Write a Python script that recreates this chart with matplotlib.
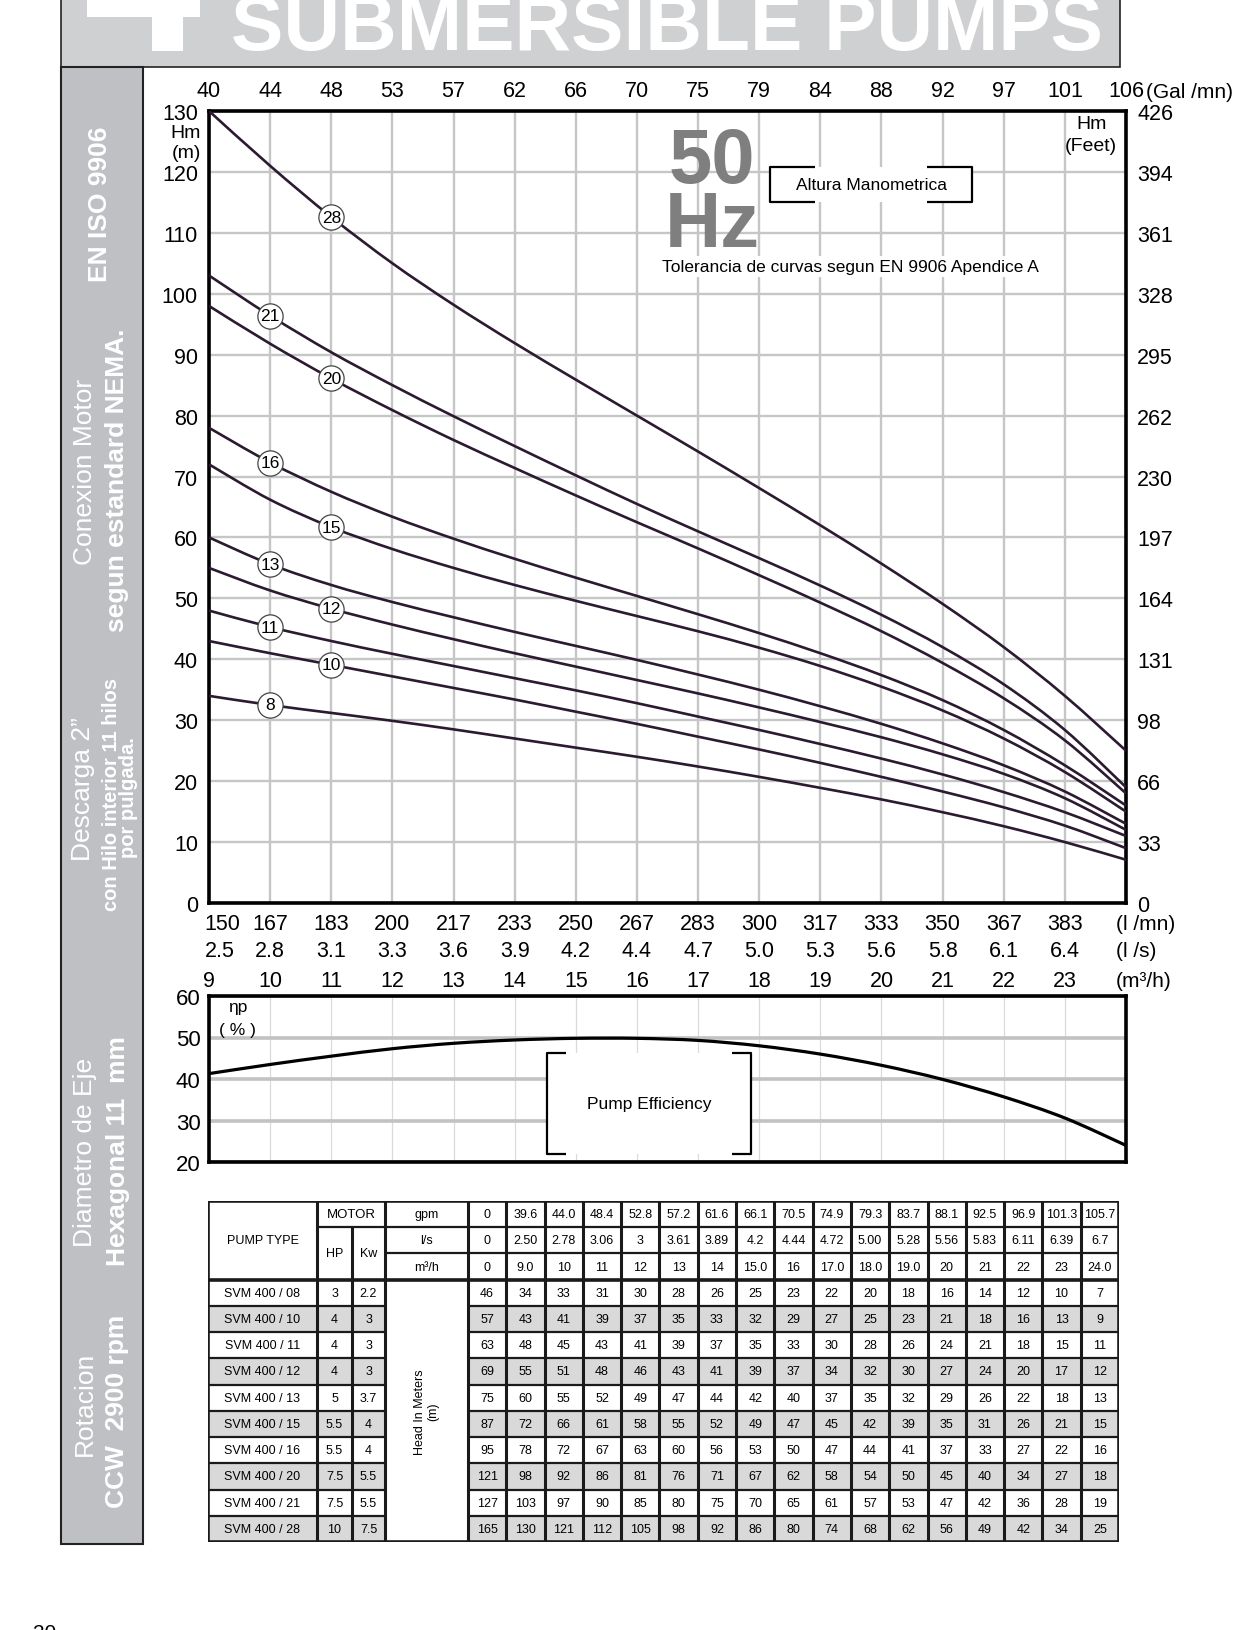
import matplotlib
matplotlib.use("Agg")
import matplotlib.pyplot as plt
import matplotlib.transforms as mtransforms
from matplotlib.patches import Rectangle, PathPatch
from matplotlib.path import Path

plt.rcParams['font.family'] = ['Liberation Sans', 'DejaVu Sans']

# 表格数据
pump_names = ["SVM 400 / 08", "SVM 400 / 10", "SVM 400 / 11", "SVM 400 / 12", "SVM 400 / 13",
              "SVM 400 / 15", "SVM 400 / 16", "SVM 400 / 20", "SVM 400 / 21", "SVM 400 / 28"]
stages = [8, 10, 11, 12, 13, 15, 16, 20, 21, 28]
motor_hp = ["3", "4", "4", "4", "5", "5.5", "5.5", "7.5", "7.5", "10"]
motor_kw = ["2.2", "3", "3", "3", "3.7", "4", "4", "5.5", "5.5", "7.5"]

gpm_row = ["0", "39.6", "44.0", "48.4", "52.8", "57.2", "61.6", "66.1", "70.5", "74.9", "79.3",
           "83.7", "88.1", "92.5", "96.9", "101.3", "105.7"]
ls_row = ["0", "2.50", "2.78", "3.06", "3", "3.61", "3.89", "4.2", "4.44", "4.72", "5.00",
          "5.28", "5.56", "5.83", "6.11", "6.39", "6.7"]
m3h_row = ["0", "9.0", "10", "11", "12", "13", "14", "15.0", "16", "17.0", "18.0", "19.0",
           "20", "21", "22", "23", "24.0"]

heads = [
    [46, 34, 33, 31, 30, 28, 26, 25, 23, 22, 20, 18, 16, 14, 12, 10, 7],
    [57, 43, 41, 39, 37, 35, 33, 32, 29, 27, 25, 23, 21, 18, 16, 13, 9],
    [63, 48, 45, 43, 41, 39, 37, 35, 33, 30, 28, 26, 24, 21, 18, 15, 11],
    [69, 55, 51, 48, 46, 43, 41, 39, 37, 34, 32, 30, 27, 24, 20, 17, 12],
    [75, 60, 55, 52, 49, 47, 44, 42, 40, 37, 35, 32, 29, 26, 22, 18, 13],
    [87, 72, 66, 61, 58, 55, 52, 49, 47, 45, 42, 39, 35, 31, 26, 21, 15],
    [95, 78, 72, 67, 63, 60, 56, 53, 50, 47, 44, 41, 37, 33, 27, 22, 16],
    [121, 98, 92, 86, 81, 76, 71, 67, 62, 58, 54, 50, 45, 40, 34, 27, 18],
    [127, 103, 97, 90, 85, 80, 75, 70, 65, 61, 57, 53, 47, 42, 36, 28, 19],
    [165, 130, 121, 112, 105, 98, 92, 86, 80, 74, 68, 62, 56, 49, 42, 34, 25],
]

# 图中曲线读数（m³/h = 9..24）
curve_flow = [9, 10, 11, 12, 13, 14, 15, 16, 17, 18, 19, 20, 21, 22, 23, 24]
curve_8 = [34, 32.5, 31.2, 29.9, 28.5, 27.0, 25.5, 24.0, 22.4, 20.7, 18.9, 17.0, 14.9, 12.6, 10.0, 7.1]
curve_10 = [43, 41.0, 39.1, 37.2, 35.3, 33.4, 31.4, 29.4, 27.3, 25.2, 23.0, 20.7, 18.3, 15.7, 12.7, 9]
curve_11 = [48, 45.3, 43.0, 40.9, 38.9, 36.9, 34.9, 32.8, 30.6, 28.4, 26.1, 23.7, 21.1, 18.2, 14.9, 11]
curve_12 = [55, 51.3, 48.3, 45.7, 43.3, 41.0, 38.8, 36.6, 34.4, 32.1, 29.7, 27.2, 24.4, 21.2, 17.2, 12]
curve_13 = [60, 55.6, 52.2, 49.4, 46.9, 44.5, 42.2, 39.9, 37.5, 35.0, 32.3, 29.4, 26.2, 22.6, 18.3, 13]
curve_15 = [72, 66.2, 61.7, 58.1, 55.0, 52.2, 49.6, 47.1, 44.6, 41.9, 38.9, 35.5, 31.6, 27.0, 21.5, 15]
curve_16 = [78, 72.3, 67.5, 63.4, 59.8, 56.5, 53.4, 50.4, 47.4, 44.3, 41.0, 37.4, 33.3, 28.4, 22.6, 16]
curve_20 = [98, 91.8, 86.1, 80.9, 76.0, 71.4, 66.9, 62.5, 58.2, 53.8, 49.3, 44.6, 39.4, 33.6, 26.7, 18]
curve_21 = [103, 96.4, 90.4, 85.0, 79.9, 75.0, 70.2, 65.5, 61.0, 56.6, 52.1, 47.3, 42.0, 35.9, 28.4, 19]
curve_28 = [130, 121.0, 112.6, 105.0, 98.2, 91.9, 85.9, 80.0, 74.1, 68.1, 62.0, 55.7, 49.1, 42.0, 34.0, 25]
curves = [curve_8, curve_10, curve_11, curve_12, curve_13, curve_15, curve_16, curve_20, curve_21, curve_28]
label_at = [10, 11, 10, 11, 10, 11, 10, 11, 10, 11]   # 圆圈标签所在流量

# 效率曲线
eff_flow = [9, 10, 11, 12, 13, 14, 15, 16, 17, 18, 19, 20, 21, 22, 23, 24]
eff = [41.3, 43.5, 45.5, 47.3, 48.6, 49.4, 49.8, 49.8, 49.3, 48.0, 46.0, 43.3, 39.9, 35.7, 30.6, 24.0]

# 坐标轴刻度标签
axis_m3h = list(range(9, 25))
gal_ticks = ["40", "44", "48", "53", "57", "62", "66", "70", "75", "79", "84", "88", "92", "97", "101", "106"]
lmin_ticks = ["150", "167", "183", "200", "217", "233", "250", "267", "283", "300", "317", "333", "350", "367", "383"]
ls_ticks = ["2.5", "2.8", "3.1", "3.3", "3.6", "3.9", "4.2", "4.4", "4.7", "5.0", "5.3", "5.6", "5.8", "6.1", "6.4"]
m3h_ticks = [str(v) for v in range(9, 24)]
hm_ticks = list(range(0, 131, 10))
feet_ticks = ["0", "33", "66", "98", "131", "164", "197", "230", "262", "295", "328", "361", "394", "426"]
eff_ticks = [20, 30, 40, 50, 60]

W, H = 1258, 1631
fig = plt.figure(figsize=(W / 100, H / 100), dpi=100)
fig.patch.set_facecolor("white")

def fx(px):
    return px / W

def fy(py):
    return 1 - py / H

curve_col = "#2b1a30"
grid_col = "#c6c6c6"

def smooth_line(a, xs, ys, **kw):
    # 通过数据点画平滑曲线（Catmull-Rom 转贝塞尔）
    pts = list(zip(xs, ys))
    verts = [pts[0]]
    codes = [Path.MOVETO]
    n = len(pts)
    for i in range(n - 1):
        p0 = pts[max(i - 1, 0)]
        p1 = pts[i]
        p2 = pts[i + 1]
        p3 = pts[min(i + 2, n - 1)]
        c1 = (p1[0] + (p2[0] - p0[0]) / 6, p1[1] + (p2[1] - p0[1]) / 6)
        c2 = (p2[0] - (p3[0] - p1[0]) / 6, p2[1] - (p3[1] - p1[1]) / 6)
        verts += [c1, c2, p2]
        codes += [Path.CURVE4] * 3
    a.add_patch(PathPatch(Path(verts, codes), fc="none", **kw))

# ---------- 页眉与侧栏 ----------
fig.add_artist(Rectangle((fx(61), fy(68)), fx(1120) - fx(61), 0.05, transform=fig.transFigure,
                         fc="#cfd0d2", ec="#222222", lw=1.2))
fig.add_artist(Rectangle((fx(87), fy(18)), fx(200) - fx(87), 0.02, transform=fig.transFigure,
                         fc="white", ec="none"))
fig.add_artist(Rectangle((fx(152), fy(52)), fx(183) - fx(152), 0.04, transform=fig.transFigure,
                         fc="white", ec="none"))
fig.text(fx(231), fy(50), "SUBMERSIBLE PUMPS", color="white", fontsize=56.5, fontweight="bold",
         ha="left", va="baseline")

fig.add_artist(Rectangle((fx(61), fy(1545)), fx(143) - fx(61), (1545 - 68) / H, transform=fig.transFigure,
                         fc="#bfc0c4", ec="#222222", lw=1.5))
side_texts = [
    ("EN ISO 9906", 100, 204, 19, "bold"),
    ("Conexion Motor", 85, 472, 19, "normal"),
    ("segun estandard NEMA.", 117, 480, 19, "bold"),
    ("Descarga 2\u201d", 83, 789, 19, "normal"),
    ("con Hilo interior 11 hilos", 112, 795, 14.5, "bold"),
    ("por pulgada.", 128, 798, 14.5, "bold"),
    ("Diametro de Eje", 85, 1152, 19, "normal"),
    ("Hexagonal 11  mm", 118, 1151, 19, "bold"),
    ("Rotacion", 85, 1404, 19, "normal"),
    ("CCW  2900 rpm", 117, 1411, 19, "bold"),
]
for txt, px, py, fs, fw in side_texts:
    fig.text(fx(px), fy(py), txt, rotation=90, color="white", fontsize=fs, fontweight=fw,
             ha="center", va="center")

# ---------- 扬程曲线 ----------
ax = fig.add_axes([fx(209), fy(904), fx(1126) - fx(209), (904 - 112) / H])
ax.set_xlim(9, 24)
ax.set_ylim(0, 130)
ax.set_xticks(axis_m3h, gal_ticks)
ax.set_yticks(hm_ticks)
ax.tick_params(axis="x", top=True, bottom=False, labeltop=True, labelbottom=False,
               length=0, pad=7, labelsize=15.5)
ax.tick_params(axis="y", length=0, pad=8, labelsize=15.5)
ax.grid(True, color=grid_col, lw=1.7)
ax.set_axisbelow(True)
for sp in ax.spines.values():
    sp.set_linewidth(2.6)

ax2 = ax.twinx()
ax2.set_ylim(0, 130)
ax2.set_yticks(hm_ticks, feet_ticks)
ax2.tick_params(axis="y", length=0, pad=8, labelsize=15.5)
for sp in ax2.spines.values():
    sp.set_visible(False)

for i, c in enumerate(curves):
    smooth_line(ax, curve_flow, c, ec=curve_col, lw=1.9, zorder=3)
    xl = label_at[i]
    yl = c[curve_flow.index(xl)]
    ax.scatter([xl], [yl], s=330, facecolor="white", edgecolor="#444444", lw=0.9, zorder=4)
    ax.text(xl, yl, str(stages[i]), ha="center", va="center", fontsize=12.5, zorder=5)

# 下方三行流量单位
blend = mtransforms.blended_transform_factory(ax.transData, ax.transAxes)
rows = [(lmin_ticks, -0.0265, "(l /mn)"), (ls_ticks, -0.0606, "(l /s)"), (m3h_ticks, -0.0975, "(m³/h)")]
for labels, yy, unit in rows:
    for j, lab in enumerate(labels):
        xx = axis_m3h[j]
        if j == 0 and len(lab) > 1:
            ax.text(xx - 0.07, yy, lab, transform=blend, ha="left", va="center", fontsize=15.5, clip_on=False)
        else:
            ax.text(xx, yy, lab, transform=blend, ha="center", va="center", fontsize=15.5, clip_on=False)
    ax.text(23.84, yy, unit, transform=blend, ha="left", va="center", fontsize=15, clip_on=False)
fig.text(fx(1146), fy(92), "(Gal /mn)", ha="left", va="center", fontsize=15)

# 单位与注释
fig.text(fx(186), fy(133), "Hm", ha="center", va="center", fontsize=14)
fig.text(fx(186), fy(153), "(m)", ha="center", va="center", fontsize=14)
ax.text(0.962, 0.9836, "Hm", transform=ax.transAxes, ha="center", va="center", fontsize=14)
ax.text(0.962, 0.957, "(Feet)", transform=ax.transAxes, ha="center", va="center", fontsize=14)

ax.text(0.5485, 0.910, "50", transform=ax.transAxes, ha="center", va="baseline", fontsize=56,
        fontweight="bold", color="#7f7f7f", zorder=3)
ax.text(0.5485, 0.8295, "Hz", transform=ax.transAxes, ha="center", va="baseline", fontsize=56,
        fontweight="bold", color="#7f7f7f", zorder=3)
ax.text(0.699, 0.804, "Tolerancia de curvas segun EN 9906 Apendice A", transform=ax.transAxes,
        ha="center", va="center", fontsize=12.5, zorder=3,
        bbox=dict(fc="white", ec="none", pad=2))

def bracket_box(a, x0, x1, y0, y1, tick, text, fs):
    a.add_patch(Rectangle((x0, y0), x1 - x0, y1 - y0, transform=a.transAxes, fc="white", ec="none", zorder=2.5))
    kw = dict(transform=a.transAxes, color="black", lw=1.6, zorder=3, solid_capstyle="butt")
    a.plot([x0 + tick, x0, x0, x0 + tick], [y1, y1, y0, y0], **kw)
    a.plot([x1 - tick, x1, x1, x1 - tick], [y1, y1, y0, y0], **kw)
    a.text((x0 + x1) / 2, (y0 + y1) / 2, text, transform=a.transAxes, ha="center", va="center",
           fontsize=fs, zorder=3)

bracket_box(ax, 0.612, 0.832, 0.885, 0.929, 0.049, "Altura Manometrica", 12.5)

# ---------- 效率曲线 ----------
ae = fig.add_axes([fx(209), fy(1163), fx(1126) - fx(209), (1163 - 997) / H])
ae.set_xlim(9, 24)
ae.set_ylim(20, 60)
ae.set_xticks(axis_m3h)
ae.set_yticks(eff_ticks)
ae.tick_params(axis="x", length=0, labelbottom=False)
ae.tick_params(axis="y", length=0, pad=6, labelsize=16)
ae.xaxis.grid(True, color="#dadada", lw=0.9)
ae.yaxis.grid(True, color="#c2c2c2", lw=2.6)
ae.set_axisbelow(True)
for sp in ae.spines.values():
    sp.set_linewidth(2.6)
smooth_line(ae, eff_flow, eff, ec="black", lw=2.3, zorder=3)
ae.text(0.031, 0.934, "ηp", transform=ae.transAxes, ha="center", va="center", fontsize=12.5)
ae.text(0.031, 0.801, "( % )", transform=ae.transAxes, ha="center", va="center", fontsize=12.5)
bracket_box(ae, 0.3686, 0.591, 0.048, 0.657, 0.021, "Pump Efficiency", 12.5)

# ---------- 数据表 ----------
at = fig.add_axes([fx(208), fy(1543), fx(1119) - fx(208), (1543 - 1202) / H])
at.set_xlim(208, 1119)
at.set_ylim(1543, 1202)
at.axis("off")

cw = (1119 - 468) / 17
data_cols = [468 + k * cw for k in range(18)]
rh = (1543 - 1202) / 13
row_y = [1202 + k * rh for k in range(14)]
fs_t = 9

# 斑马纹
for r in range(len(pump_names)):
    if r % 2 == 1:
        y0 = row_y[3 + r]
        at.add_patch(Rectangle((208, y0), 385 - 208, rh, fc="#d9d9d9", ec="none"))
        at.add_patch(Rectangle((468, y0), 1119 - 468, rh, fc="#d9d9d9", ec="none"))

lk = dict(color="#1a1a1a", solid_capstyle="butt")
# 竖线
for xv in [317, 385, 468] + data_cols[1:-1]:
    at.plot([xv, xv], [1202, 1543], lw=2.2, **lk)
at.plot([352, 352], [row_y[1], 1543], lw=2.2, **lk)
# 横线
at.plot([317, 1119], [row_y[1], row_y[1]], lw=1.6, **lk)
at.plot([385, 1119], [row_y[2], row_y[2]], lw=1.6, **lk)
at.plot([208, 1119], [row_y[3], row_y[3]], lw=2.6, **lk)
for k in range(4, 13):
    at.plot([208, 385], [row_y[k], row_y[k]], lw=1.6, **lk)
    at.plot([468, 1119], [row_y[k], row_y[k]], lw=1.6, **lk)
at.add_patch(Rectangle((208, 1202), 1119 - 208, 1543 - 1202, fc="none", ec="#1a1a1a", lw=2.6))

def cell(x0, x1, y0, y1, s, fs=fs_t, rot=0):
    at.text((x0 + x1) / 2, (y0 + y1) / 2, s, ha="center", va="center", fontsize=fs, rotation=rot)

cell(208, 317, row_y[0], row_y[3], "PUMP TYPE")
cell(317, 385, row_y[0], row_y[1], "MOTOR", fs=9.5)
cell(317, 352, row_y[1], row_y[3], "HP")
cell(352, 385, row_y[1], row_y[3], "Kw")
cell(385, 468, row_y[0], row_y[1], "gpm")
cell(385, 468, row_y[1], row_y[2], "l/s")
cell(385, 468, row_y[2], row_y[3], "m³/h")
for k in range(17):
    cell(data_cols[k], data_cols[k + 1], row_y[0], row_y[1], gpm_row[k])
    cell(data_cols[k], data_cols[k + 1], row_y[1], row_y[2], ls_row[k])
    cell(data_cols[k], data_cols[k + 1], row_y[2], row_y[3], m3h_row[k])
for r in range(len(pump_names)):
    y0, y1 = row_y[3 + r], row_y[4 + r]
    cell(208, 317, y0, y1, pump_names[r])
    cell(317, 352, y0, y1, motor_hp[r])
    cell(352, 385, y0, y1, motor_kw[r])
    for k in range(17):
        cell(data_cols[k], data_cols[k + 1], y0, y1, str(heads[r][k]))
cell(385, 468, row_y[3], row_y[13], "Head In Meters\n(m)", rot=90)

# 页码
fig.text(fx(33), fy(1624), "20", ha="left", va="top", fontsize=15)

plt.savefig("out.png", dpi=100)
